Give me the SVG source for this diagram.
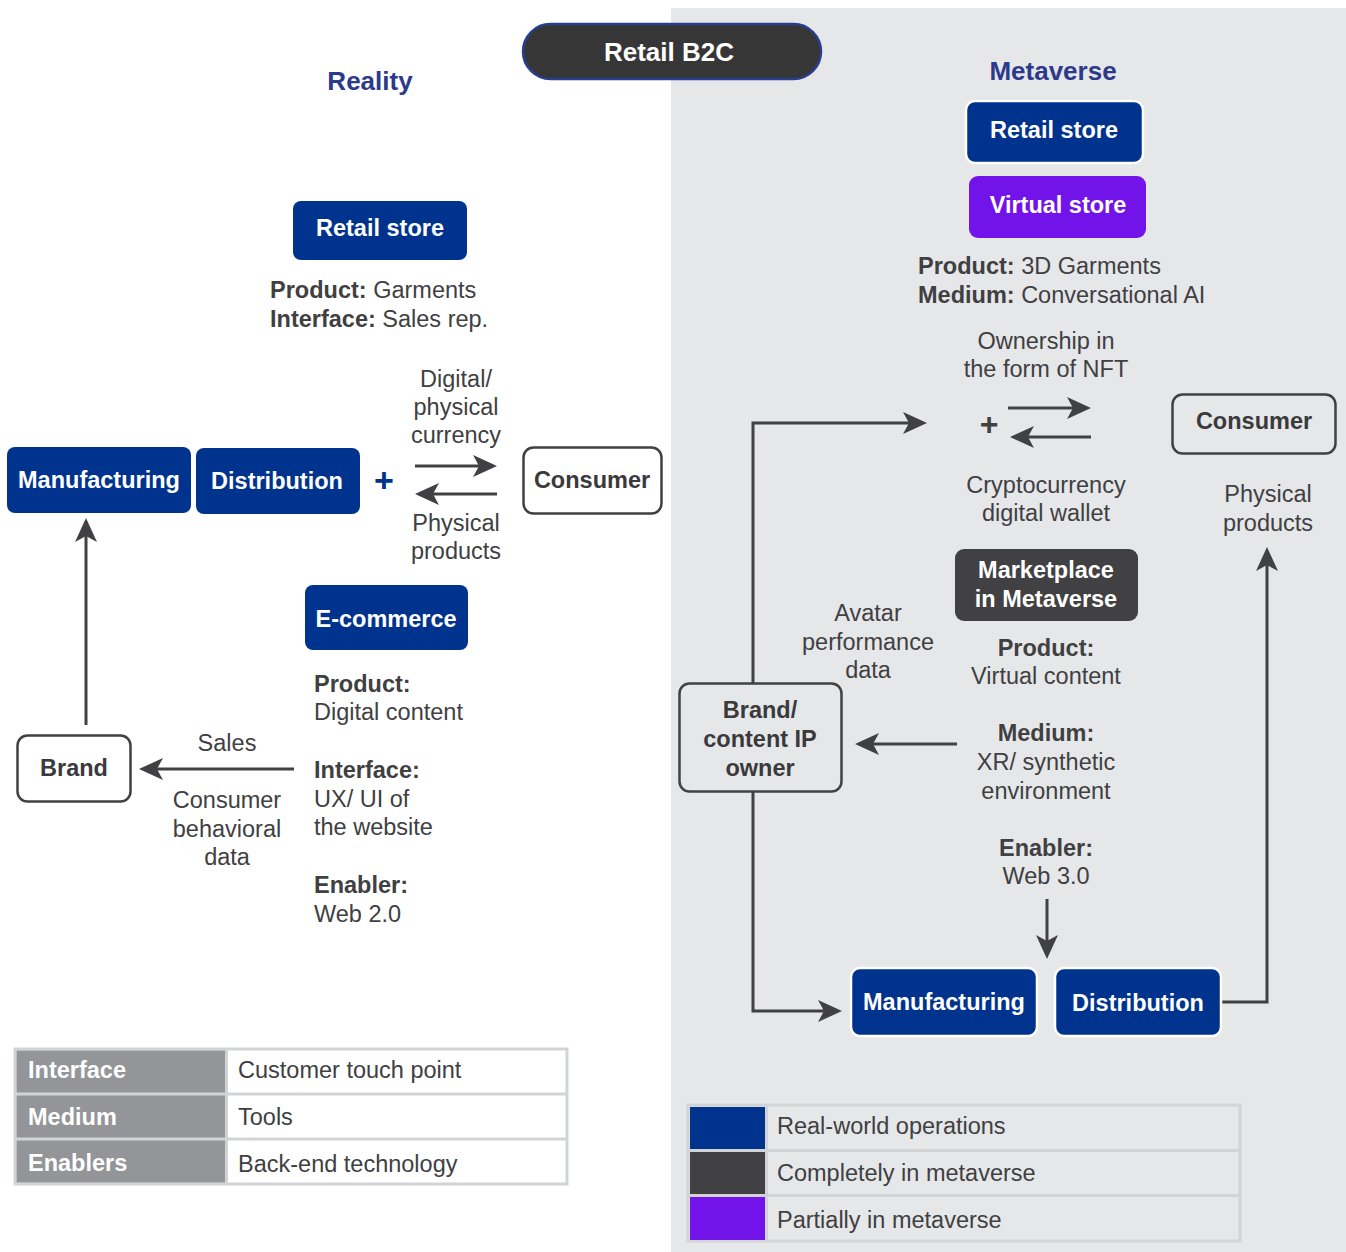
<svg xmlns="http://www.w3.org/2000/svg" width="1346" height="1252" viewBox="0 0 1346 1252">
<defs>
<style>
text{font-family:"Liberation Sans",Arial,sans-serif}
.hd{font-size:26px;font-weight:bold;fill:#2b3a8c;text-anchor:middle}
.bl{font-size:23.5px;font-weight:bold;fill:#ffffff;text-anchor:middle}
.dk{font-size:23.5px;font-weight:bold;fill:#3a3a3c;text-anchor:middle}
.tx{font-size:23.5px;fill:#404042}
.txc{font-size:23.5px;fill:#404042;text-anchor:middle}
.b{font-weight:bold}
.blue{fill:#00338d}
.purple{fill:#7213ea}
.dark{fill:#414042}
.wb{stroke:#ffffff;stroke-width:2.5}
.out{fill:none;stroke:#414042;stroke-width:3}
.con{fill:none;stroke:#414042;stroke-width:3;marker-end:url(#ah)}
.tl{font-size:23.5px;font-weight:bold;fill:#ffffff}
.tr{font-size:23.5px;fill:#404042}
</style>
<marker id="ah" viewBox="0 0 24 24" markerWidth="24" markerHeight="24" refX="20" refY="12" orient="auto" markerUnits="userSpaceOnUse">
<path d="M0,1 L24,12 L0,23 L6,12 Z" fill="#414042"/>
</marker>
</defs>

<rect x="671" y="8" width="675" height="1244" fill="#e6e7e9"/>

<g id="title">
<rect x="523" y="24" width="298" height="55" rx="27.5" fill="#363636" stroke="#2b3d8f" stroke-width="2.5"/>
<text x="669" y="61" class="bl" style="font-size:26px">Retail B2C</text>
</g>
<text x="370" y="90" class="hd">Reality</text>
<text x="1053" y="80" class="hd">Metaverse</text>

<g id="connectors">
<line x1="86" y1="725" x2="86" y2="522" class="con"/>
<line x1="294" y1="769" x2="143" y2="769" class="con"/>
<line x1="415" y1="466" x2="493" y2="466" class="con"/>
<line x1="497" y1="494" x2="419" y2="494" class="con"/>
<path d="M753,683 V423 H923" class="con"/>
<path d="M753,792 V1011 H838" class="con"/>
<line x1="957" y1="744" x2="859" y2="744" class="con"/>
<line x1="1047" y1="899" x2="1047" y2="955" class="con"/>
<path d="M1222,1002 H1267 V551" class="con"/>
<line x1="1008" y1="408" x2="1087" y2="408" class="con"/>
<line x1="1091" y1="437" x2="1014" y2="437" class="con"/>
</g>

<g id="l-retail">
<rect x="293" y="201" width="174" height="59" rx="8" class="blue"/>
<text x="380" y="236" class="bl">Retail store</text>
<text x="270" y="298" class="tx"><tspan class="b">Product:</tspan> Garments</text>
<text x="270" y="327" class="tx"><tspan class="b">Interface:</tspan> Sales rep.</text>
</g>
<g id="l-manufacturing">
<rect x="7" y="447" width="184" height="66" rx="8" class="blue"/>
<text x="99" y="488" class="bl">Manufacturing</text>
</g>
<g id="l-distribution">
<rect x="196" y="448" width="164" height="66" rx="8" class="blue"/>
<text x="277" y="489" class="bl">Distribution</text>
</g>
<text x="384" y="492" style="font-size:34px;font-weight:bold;fill:#00338d;text-anchor:middle">+</text>
<g id="l-labels">
<text x="456" y="387" class="txc">Digital/</text>
<text x="456" y="415" class="txc">physical</text>
<text x="456" y="443" class="txc">currency</text>
<text x="456" y="531" class="txc">Physical</text>
<text x="456" y="559" class="txc">products</text>
</g>
<g id="l-consumer">
<rect x="523.5" y="447.5" width="138" height="66" rx="10" fill="#ffffff" stroke="#414042" stroke-width="2.5"/>
<text x="592" y="488" class="dk">Consumer</text>
</g>
<g id="l-ecommerce">
<rect x="305" y="585" width="163" height="65" rx="8" class="blue"/>
<text x="386" y="627" class="bl">E-commerce</text>
<text x="314" y="692" class="tx b">Product:</text>
<text x="314" y="720" class="tx">Digital content</text>
<text x="314" y="778" class="tx b">Interface:</text>
<text x="314" y="807" class="tx">UX/ UI of</text>
<text x="314" y="835" class="tx">the website</text>
<text x="314" y="893" class="tx b">Enabler:</text>
<text x="314" y="922" class="tx">Web 2.0</text>
</g>
<g id="l-brand">
<rect x="17.5" y="735.5" width="113" height="66" rx="10" fill="#ffffff" stroke="#414042" stroke-width="2.5"/>
<text x="74" y="776" class="dk">Brand</text>
</g>
<g id="l-sales">
<text x="227" y="751" class="txc">Sales</text>
<text x="227" y="808" class="txc">Consumer</text>
<text x="227" y="837" class="txc">behavioral</text>
<text x="227" y="865" class="txc">data</text>
</g>

<g id="table">
<rect x="15" y="1049" width="552" height="135" fill="#ffffff" stroke="#d1d3d4" stroke-width="3"/>
<rect x="16.5" y="1050.5" width="209" height="132" fill="#939598"/>
<line x1="15" y1="1094" x2="567" y2="1094" stroke="#d1d3d4" stroke-width="3"/>
<line x1="15" y1="1139" x2="567" y2="1139" stroke="#d1d3d4" stroke-width="3"/>
<line x1="226.5" y1="1049" x2="226.5" y2="1184" stroke="#d1d3d4" stroke-width="3"/>
<text x="28" y="1078" class="tl">Interface</text>
<text x="28" y="1125" class="tl">Medium</text>
<text x="28" y="1171" class="tl">Enablers</text>
<text x="238" y="1078" class="tr">Customer touch point</text>
<text x="238" y="1125" class="tr">Tools</text>
<text x="238" y="1172" class="tr">Back-end technology</text>
</g>

<g id="m-retail">
<rect x="966" y="101" width="177" height="62" rx="9" class="blue wb"/>
<text x="1054" y="138" class="bl">Retail store</text>
</g>
<g id="m-virtual">
<rect x="969" y="176" width="177" height="62" rx="9" class="purple"/>
<text x="1058" y="213" class="bl">Virtual store</text>
</g>
<text x="918" y="274" class="tx"><tspan class="b">Product:</tspan> 3D Garments</text>
<text x="918" y="303" class="tx"><tspan class="b">Medium:</tspan> Conversational AI</text>
<g id="m-labels">
<text x="1046" y="349" class="txc">Ownership in</text>
<text x="1046" y="377" class="txc">the form of NFT</text>
<text x="1046" y="493" class="txc">Cryptocurrency</text>
<text x="1046" y="521" class="txc">digital wallet</text>
<text x="1268" y="502" class="txc">Physical</text>
<text x="1268" y="531" class="txc">products</text>
<text x="868" y="621" class="txc">Avatar</text>
<text x="868" y="650" class="txc">performance</text>
<text x="868" y="678" class="txc">data</text>
</g>
<text x="989" y="435" style="font-size:32px;font-weight:bold;fill:#414042;text-anchor:middle">+</text>
<g id="m-consumer">
<rect x="1172.5" y="394.5" width="163" height="59" rx="10" fill="#e6e7e9" stroke="#414042" stroke-width="2.5"/>
<text x="1254" y="429" class="dk">Consumer</text>
</g>
<g id="m-marketplace">
<rect x="955" y="549" width="183" height="72" rx="9" class="dark"/>
<text x="1046" y="578" class="bl">Marketplace</text>
<text x="1046" y="607" class="bl">in Metaverse</text>
<text x="1046" y="656" class="txc b">Product:</text>
<text x="1046" y="684" class="txc">Virtual content</text>
<text x="1046" y="741" class="txc b">Medium:</text>
<text x="1046" y="770" class="txc">XR/ synthetic</text>
<text x="1046" y="799" class="txc">environment</text>
<text x="1046" y="856" class="txc b">Enabler:</text>
<text x="1046" y="884" class="txc">Web 3.0</text>
</g>
<g id="m-brand">
<rect x="679.5" y="683.5" width="162" height="108" rx="10" fill="#e6e7e9" stroke="#414042" stroke-width="2.5"/>
<text x="760" y="718" class="dk">Brand/</text>
<text x="760" y="747" class="dk">content IP</text>
<text x="760" y="776" class="dk">owner</text>
</g>
<g id="m-manufacturing">
<rect x="851" y="968" width="186" height="68" rx="9" class="blue wb"/>
<text x="944" y="1010" class="bl">Manufacturing</text>
</g>
<g id="m-distribution">
<rect x="1055" y="968" width="166" height="68" rx="9" class="blue wb"/>
<text x="1138" y="1011" class="bl">Distribution</text>
</g>

<g id="legend">
<rect x="688" y="1105" width="552" height="136" fill="#e6e7e9" stroke="#d1d3d4" stroke-width="3"/>
<rect x="690" y="1107" width="75" height="43" class="blue"/>
<rect x="690" y="1152" width="75" height="43" class="dark"/>
<rect x="690" y="1197" width="75" height="43" class="purple"/>
<line x1="688" y1="1150.5" x2="1240" y2="1150.5" stroke="#d1d3d4" stroke-width="3"/>
<line x1="688" y1="1195.5" x2="1240" y2="1195.5" stroke="#d1d3d4" stroke-width="3"/>
<line x1="766.5" y1="1105" x2="766.5" y2="1241" stroke="#d1d3d4" stroke-width="3"/>
<text x="777" y="1134" class="tr">Real-world operations</text>
<text x="777" y="1181" class="tr">Completely in metaverse</text>
<text x="777" y="1228" class="tr">Partially in metaverse</text>
</g>
</svg>
